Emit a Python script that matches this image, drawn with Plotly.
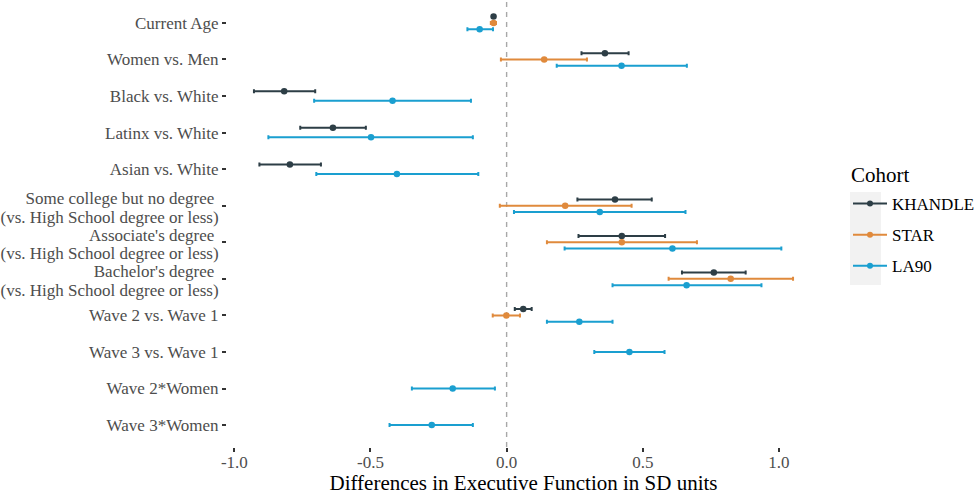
import plotly.graph_objects as go

categories = [
    "Current Age",
    "Women vs. Men",
    "Black vs. White",
    "Latinx vs. White",
    "Asian vs. White",
    "Some college but no degree\u00a0\n(vs. High School degree or less)",
    "Associate's degree\u00a0\n(vs. High School degree or less)",
    "Bachelor's degree\u00a0\n(vs. High School degree or less)",
    "Wave 2 vs. Wave 1",
    "Wave 3 vs. Wave 1",
    "Wave 2*Women",
    "Wave 3*Women",
]

cohorts = ["KHANDLE", "STAR", "LA90"]
colors = ["#2d3e46", "#e08a3c", "#1a9fd0"]

khandle_est = [-0.048, 0.361, -0.817, -0.638, -0.796, 0.398, 0.423, 0.761, 0.061, None, None, None]
khandle_lo = [-0.053, 0.275, -0.928, -0.758, -0.908, 0.260, 0.264, 0.644, 0.030, None, None, None]
khandle_hi = [-0.043, 0.448, -0.703, -0.517, -0.682, 0.533, 0.582, 0.878, 0.092, None, None, None]

star_est = [-0.048, 0.138, None, None, None, 0.215, 0.423, 0.823, -0.001, None, None, None]
star_lo = [-0.058, -0.021, None, None, None, -0.025, 0.148, 0.595, -0.051, None, None, None]
star_hi = [-0.039, 0.295, None, None, None, 0.459, 0.699, 1.052, 0.049, None, None, None]

la90_est = [-0.099, 0.422, -0.419, -0.498, -0.403, 0.342, 0.609, 0.661, 0.267, 0.451, -0.198, -0.275]
la90_lo = [-0.144, 0.184, -0.707, -0.875, -0.699, 0.027, 0.213, 0.389, 0.148, 0.322, -0.348, -0.430]
la90_hi = [-0.050, 0.662, -0.131, -0.124, -0.104, 0.657, 1.009, 0.936, 0.389, 0.580, -0.043, -0.124]

x_tickvals = [-1.0, -0.5, 0.0, 0.5, 1.0]
x_ticktext = ["-1.0", "-0.5", "0.0", "0.5", "1.0"]

series = [
    (khandle_est, khandle_lo, khandle_hi),
    (star_est, star_lo, star_hi),
    (la90_est, la90_lo, la90_hi),
]

FONT = "Liberation Serif"
TICK_SIZE = 17
dodge_w = 0.52
line_step = 0.505  # spacing of wrapped label lines, in category units

n_cat = len(categories)
present = [[k for k in range(3) if series[k][0][i] is not None] for i in range(n_cat)]

fig = go.Figure()

for k, (est, lo, hi) in enumerate(series):
    xs, ys, ep, em = [], [], [], []
    for i in range(n_cat):
        if est[i] is None:
            continue
        grp = present[i]
        n = len(grp)
        j = grp.index(k)
        off = dodge_w * ((j + 0.5) / n - 0.5)
        xs.append(est[i])
        ys.append(i + off)
        ep.append(hi[i] - est[i])
        em.append(est[i] - lo[i])
    fig.add_trace(go.Scatter(
        x=xs, y=ys, mode="markers",
        marker=dict(color=colors[k], size=6.5),
        error_x=dict(type="data", symmetric=False, array=ep, arrayminus=em,
                     color=colors[k], thickness=2, width=2),
        showlegend=False, hoverinfo="skip",
    ))

for k, name in enumerate(cohorts):
    fig.add_trace(go.Scatter(
        x=[None], y=[None], mode="lines+markers", name=name,
        line=dict(color=colors[k], width=2),
        marker=dict(color=colors[k], size=6),
        legendgroup=name,
    ))

# label lines as separate ticks so the line spacing matches; tick marks drawn as minor ticks
label_vals, label_text = [], []
for i, lab in enumerate(categories):
    lines = lab.split("\n")
    m = len(lines)
    for j, ln in enumerate(lines):
        label_vals.append(i + (j - (m - 1) / 2) * line_step + (0.05 if m > 1 else 0))
        label_text.append(ln)

L, R, T, B = 227, 155, 1, 48
plot_w = 975 - L - R
plot_h = 495 - T - B

def px_x(px):
    return (px - L) / plot_w

def px_y(py):
    return (495 - B - py) / plot_h

fig.add_shape(type="line", xref="x", yref="paper", x0=0, x1=0, y0=0, y1=1,
              line=dict(color="#a8a8a8", width=1.4, dash="5px,5px"), layer="below")

fig.add_shape(type="rect", xref="paper", yref="paper",
              x0=px_x(850), x1=px_x(881), y0=px_y(285), y1=px_y(192),
              fillcolor="#f2f2f2", line=dict(width=0), layer="below")

fig.add_annotation(text="Cohort", xref="paper", yref="paper",
                   x=px_x(849), y=px_y(175), xanchor="left", yanchor="middle",
                   showarrow=False, font=dict(family=FONT, size=21, color="black"))

fig.update_layout(
    width=975, height=495,
    margin=dict(l=L, r=R, t=T, b=B, autoexpand=False),
    paper_bgcolor="white", plot_bgcolor="white",
    font=dict(family=FONT, color="#4d4d4d", size=TICK_SIZE),
    xaxis=dict(
        range=[-1.027, 1.151], showgrid=False, zeroline=False, showline=False,
        tickvals=x_tickvals, ticktext=x_ticktext,
        ticks="outside", ticklen=4, tickwidth=1.5, tickcolor="#333333",
        tickfont=dict(family=FONT, size=TICK_SIZE, color="#4d4d4d"),
        ticklabelstandoff=-4,
        title=dict(text="Differences in Executive Function in SD units",
                   font=dict(family=FONT, size=21, color="black"), standoff=5),
        automargin=False,
    ),
    yaxis=dict(
        range=[n_cat - 1 + 0.6, -0.6], showgrid=False, zeroline=False, showline=False,
        tickvals=label_vals, ticktext=label_text,
        ticks="outside", ticklen=4, tickwidth=1.5, tickcolor="rgba(0,0,0,0)",
        tickfont=dict(family=FONT, size=TICK_SIZE, color="#4d4d4d"),
        minor=dict(tickvals=list(range(n_cat)), ticks="outside", ticklen=4,
                   tickwidth=1.5, tickcolor="#333333", showgrid=False),
        automargin=False,
    ),
    legend=dict(
        x=px_x(848), y=px_y(186), xanchor="left", yanchor="top",
        font=dict(family=FONT, size=17, color="black"),
        tracegroupgap=6, bgcolor="rgba(0,0,0,0)", itemwidth=34,
    ),
)

fig.write_html("out.html", config={"displayModeBar": False},
               post_script="document.body.style.margin='0';")
